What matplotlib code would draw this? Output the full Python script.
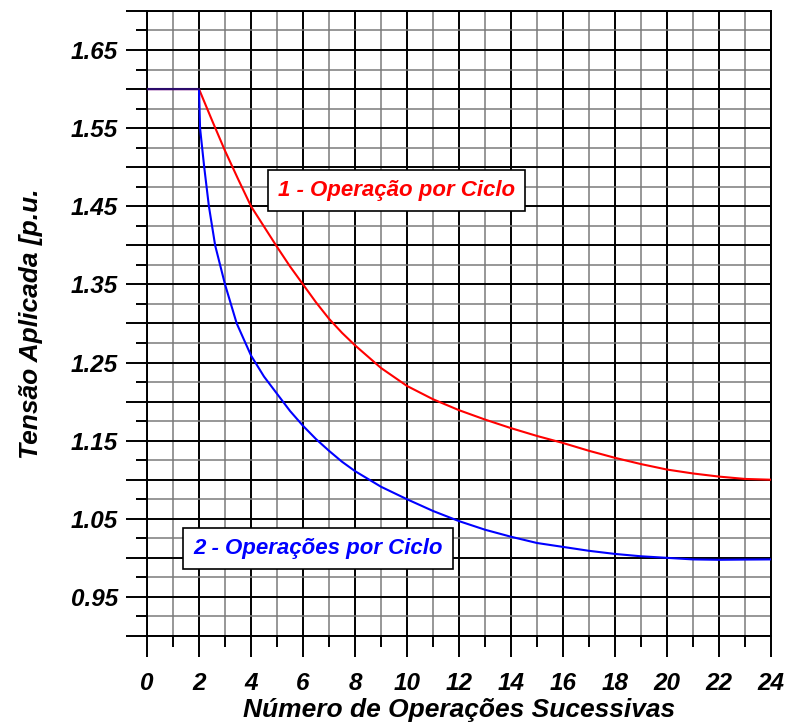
import matplotlib
matplotlib.use("Agg")
import matplotlib.pyplot as plt
from matplotlib.ticker import FixedLocator, FixedFormatter

plt.rcParams['font.family'] = ['Liberation Sans', 'DejaVu Sans']

# Data
x_red = [0, 2, 2.5, 3, 3.5, 4, 4.5, 5, 5.5, 6, 6.5, 7, 7.5, 8, 9, 10, 11, 12, 13, 14, 15, 16,
         17, 18, 19, 20, 21, 22, 23, 24]
y_red = [1.600, 1.600, 1.560, 1.521, 1.485, 1.450, 1.424, 1.398, 1.373, 1.350, 1.327, 1.306,
         1.288, 1.272, 1.243, 1.220, 1.203, 1.189, 1.177, 1.166, 1.156, 1.147, 1.137, 1.128,
         1.120, 1.113, 1.108, 1.104, 1.101, 1.100]

x_blue = [0, 2, 2.04, 2.2, 2.38, 2.62, 3, 3.45, 4, 4.5, 5, 5.5, 6, 6.5, 7, 7.5, 8, 9, 10, 11,
          12, 13, 14, 15, 16, 17, 18, 19, 20, 21, 22, 23, 24]
y_blue = [1.600, 1.600, 1.550, 1.500, 1.450, 1.400, 1.350, 1.300, 1.259, 1.232, 1.210, 1.188,
          1.169, 1.152, 1.137, 1.123, 1.111, 1.091, 1.075, 1.060, 1.047, 1.036, 1.027, 1.019,
          1.014, 1.009, 1.005, 1.002, 1.000, 0.998, 0.9975, 0.9978, 0.998]

x_common = [0, 2]
y_common = [1.600, 1.600]

x_major = [0, 2, 4, 6, 8, 10, 12, 14, 16, 18, 20, 22, 24]
x_minor = [1, 3, 5, 7, 9, 11, 13, 15, 17, 19, 21, 23]
x_ticklabels = ['0', '2', '4', '6', '8', '10', '12', '14', '16', '18', '20', '22', '24']
y_major = [0.90, 0.95, 1.00, 1.05, 1.10, 1.15, 1.20, 1.25, 1.30, 1.35, 1.40, 1.45, 1.50,
           1.55, 1.60, 1.65, 1.70]
y_minor = [0.925, 0.975, 1.025, 1.075, 1.125, 1.175, 1.225, 1.275, 1.325, 1.375, 1.425,
           1.475, 1.525, 1.575, 1.625, 1.675]
y_ticklabels = ['', '0.95', '', '1.05', '', '1.15', '', '1.25', '', '1.35', '', '1.45', '',
                '1.55', '', '1.65', '']

label_red = '1 - Operação por Ciclo'
label_blue = '2 - Operações por Ciclo'

fig = plt.figure(figsize=(7.9, 7.26), dpi=100)
ax = fig.add_axes([0.1861, 0.124, 0.7899, 0.8609])

ax.set_xlim(0, 24)
ax.set_ylim(0.9, 1.7)

ax.xaxis.set_major_locator(FixedLocator(x_major))
ax.xaxis.set_minor_locator(FixedLocator(x_minor))
ax.xaxis.set_major_formatter(FixedFormatter(x_ticklabels))
ax.yaxis.set_major_locator(FixedLocator(y_major))
ax.yaxis.set_minor_locator(FixedLocator(y_minor))
ax.yaxis.set_major_formatter(FixedFormatter(y_ticklabels))

ax.grid(which='major', color='black', linewidth=1.4, zorder=1)
ax.grid(which='minor', color='#7a7a7a', linewidth=1.1, zorder=0)
ax.set_axisbelow(True)

for s in ax.spines.values():
    s.set_linewidth(1.4)
    s.set_color('black')

ax.tick_params(which='major', direction='out', length=15, width=1.4, color='black',
               labelsize=17.5, pad=11)
ax.tick_params(which='minor', direction='out', length=8, width=1.4, color='black')
ax.tick_params(axis='y', which='major', pad=6)

for lab in ax.get_xticklabels() + ax.get_yticklabels():
    lab.set_fontweight('bold')
    lab.set_fontstyle('italic')

ax.plot(x_red, y_red, color='#ff0000', linewidth=1.5, zorder=3)
ax.plot(x_blue, y_blue, color='#0000ff', linewidth=1.5, zorder=4)
ax.plot(x_common, y_common, color='#2a0a6a', linewidth=1.5, zorder=5)

ax.text(9.6, 1.4705, label_red, color='#ff0000', fontsize=16, fontweight='bold',
        fontstyle='italic', ha='center', va='center', zorder=6,
        bbox=dict(boxstyle='square,pad=0.45', facecolor='white', edgecolor='black', linewidth=1.2))
ax.text(6.58, 1.0115, label_blue, color='#0000ff', fontsize=16, fontweight='bold',
        fontstyle='italic', ha='center', va='center', zorder=6,
        bbox=dict(boxstyle='square,pad=0.45', facecolor='white', edgecolor='black', linewidth=1.2))

ax.set_xlabel('Número de Operações Sucessivas', fontsize=19, fontweight='bold',
              fontstyle='italic', labelpad=2)
ax.set_ylabel('Tensão Aplicada [p.u.', fontsize=19, fontweight='bold',
              fontstyle='italic', labelpad=20)

fig.savefig('out.png', dpi=100)
